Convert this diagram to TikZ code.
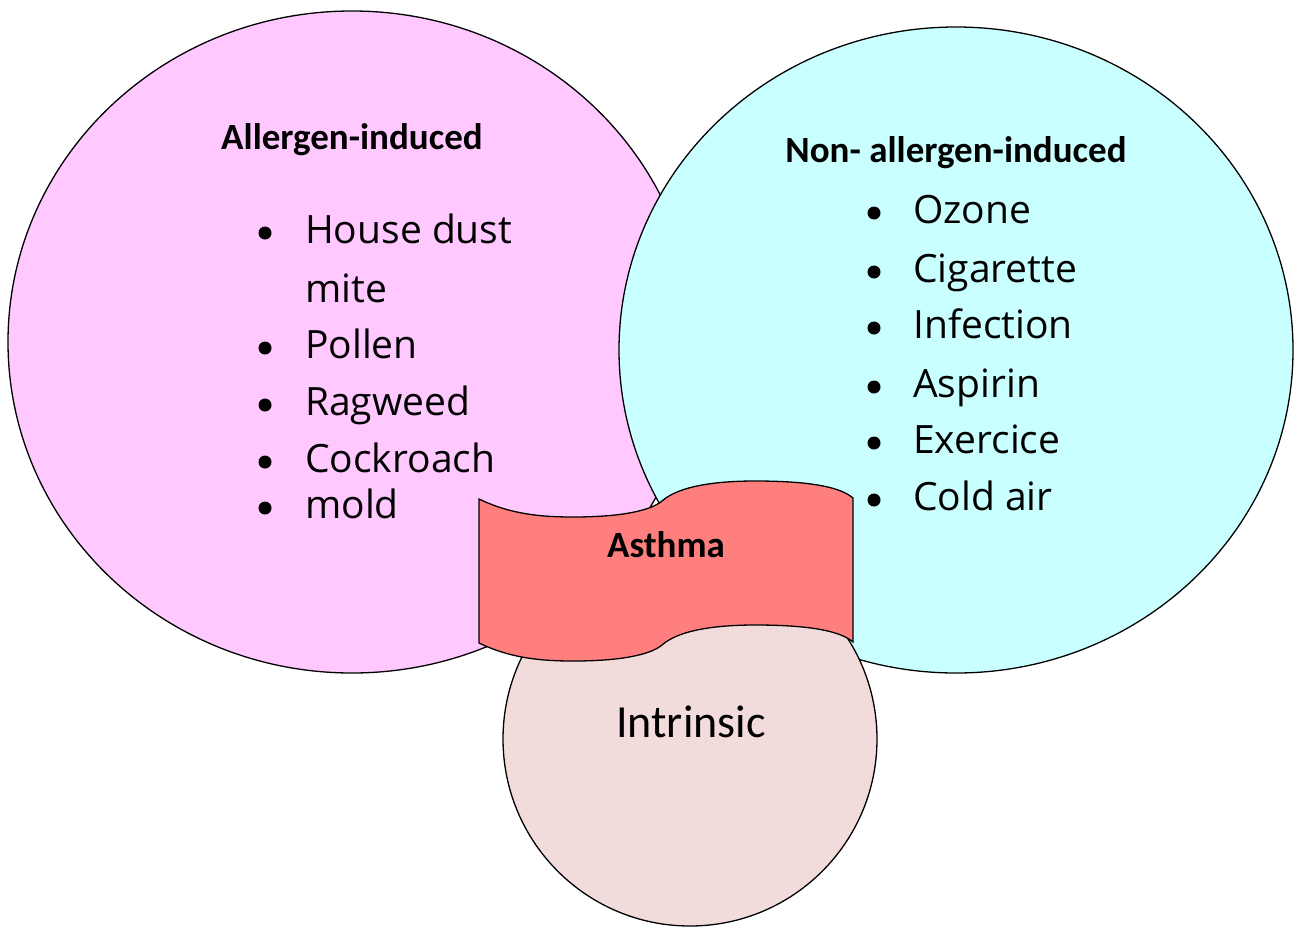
\documentclass[tikz,border=0pt]{standalone}
\usepackage{fontspec}
\setmainfont{Open Sans}
\newfontfamily\headfont{Carlito}
\usetikzlibrary{positioning}
\definecolor{apink}{HTML}{FFC9FF}
\definecolor{acyan}{HTML}{C9FFFF}
\definecolor{ared}{HTML}{FF7F7F}
\definecolor{arose}{HTML}{F1DCDB}
\begin{document}
\begin{tikzpicture}[x=1pt, y=-1pt,
  blob/.style={draw=black, line width=1.3pt},
  head/.style={inner sep=0, font=\headfont\bfseries\fontsize{37}{44}\selectfont},
  item/.style={anchor=base west, inner sep=0, font=\fontsize{39}{47}\selectfont}]
\useasboundingbox (0,0) rectangle (1297,926);
% the three circles
\draw[blob, fill=apink] (352,342) ellipse [x radius=344, y radius=331];
\draw[blob, fill=acyan] (956,350) ellipse [x radius=337, y radius=323];
\draw[blob, fill=arose] (690,739) circle (187);
% banner
\draw[blob, fill=ared] (479,499) .. controls (510,514) and (540,517) .. (573,517)
  .. controls (620,517) and (650,511) .. (662,501)
  .. controls (680,485) and (720,481) .. (755,481)
  .. controls (800,481) and (838,485) .. (853,498)
  -- (853,642) .. controls (838,629) and (800,625) .. (755,625)
  .. controls (720,625) and (680,629) .. (662,645)
  .. controls (650,655) and (620,661) .. (573,661)
  .. controls (540,661) and (510,658) .. (479,643) -- cycle;
% labels
\node[head] (allergen) at (352,140) {Allergen-induced};
\node[head] (nonallergen) at (956,153) {Non- allergen-induced};
\node[head] (asthma) at (666,545) {Asthma};
\node[inner sep=0, font=\headfont\fontsize{46}{54}\selectfont] (intrinsic) at (691,722) {Intrinsic};
% lists
\foreach \txt/\y/\b [count=\i] in {House dust/243/1, mite/302/0, Pollen/358/1,
    Ragweed/415/1, Cockroach/472/1, mold/518/1} {
  \node[item] (left\i) at (305,\y) {\txt};
  \ifnum\b=1 \fill (265,\y-10) circle (6.5); \fi
}
\foreach \txt/\y [count=\i] in {Ozone/223, Cigarette/282, Infection/338,
    Aspirin/397, Exercice/453, Cold air/510} {
  \node[item] (right\i) at (913,\y) {\txt};
  \fill (874,\y-10) circle (6.5);
}
\end{tikzpicture}
\end{document}
